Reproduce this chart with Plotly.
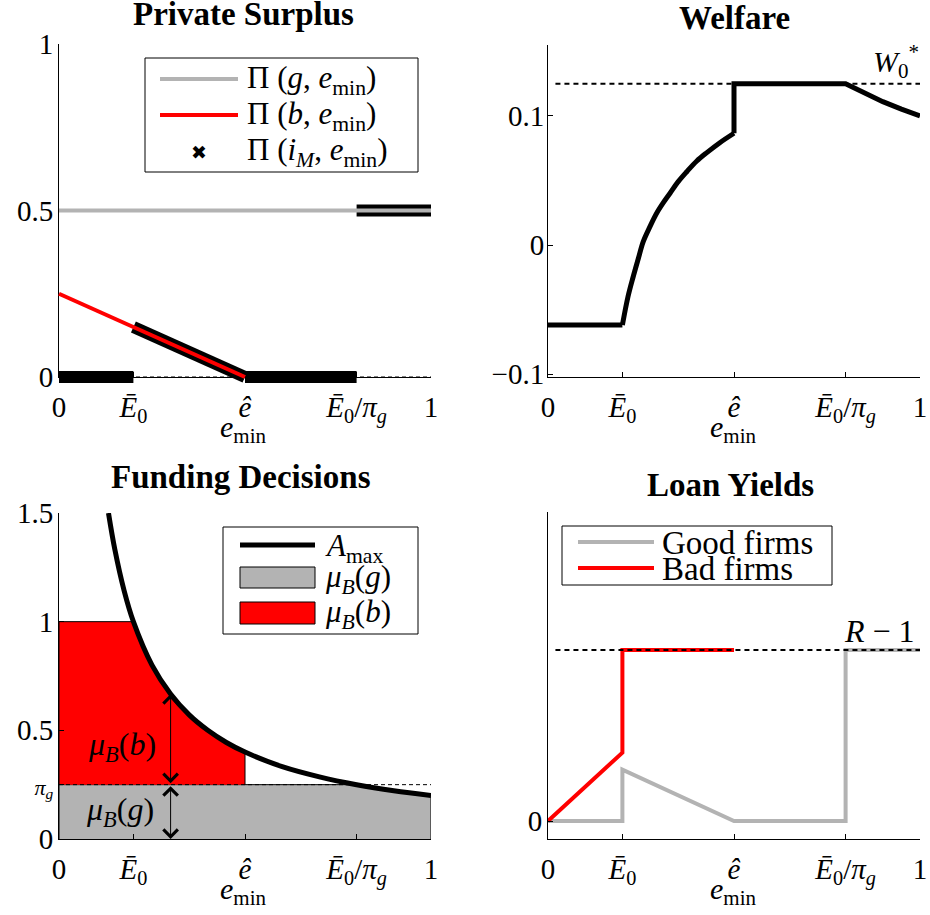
import plotly.graph_objects as go

FONT = "Liberation Serif"
GRAY = "#b3b3b3"
RED = "#ff0000"

# ---------------- shared x-axis ticks ----------------
e_tick_vals = [0, 0.2, 0.5, 0.8, 1]
e_tick_text = ["0", "<i>Ē</i><sub>0</sub>", "<i>ê</i>",
               "<i>Ē</i><sub>0</sub>/<i>π</i><sub><i>g</i></sub>", "1"]

# ---------------- Panel 1: Private Surplus ----------------
good_surplus_x = [0, 1]
good_surplus_y = [0.5, 0.5]
bad_surplus_x = [0, 0.5]
bad_surplus_y = [0.25, 0.0]
im_surplus_x = [0, 0.2, None, 0.2, 0.5, None, 0.5, 0.8, None, 0.8, 1.0]
im_surplus_y = [0, 0, None, 0.15, 0.0, None, 0, 0, None, 0.5, 0.5]
zero_x = [0, 1]
zero_y = [0, 0]
ps_y_ticks = [0, 0.5, 1]

# ---------------- Panel 2: Welfare ----------------
welfare_x = [0, 0.2, 0.215, 0.229, 0.243, 0.256, 0.274, 0.292, 0.31, 0.328,
             0.35, 0.373, 0.4, 0.427, 0.462, 0.5, 0.5, 0.8, 0.85, 0.9, 0.95, 1.0]
welfare_y = [-0.062, -0.062, -0.0401, -0.0246, -0.0103, 0.0026, 0.0142, 0.0246,
             0.0328, 0.0401, 0.0491, 0.0568, 0.0651, 0.0716, 0.0793, 0.0866,
             0.125, 0.125, 0.1176, 0.1111, 0.1053, 0.1]
w_star = 0.125
w_star_x = [0.02, 1]
w_y_ticks = [-0.1, 0, 0.1]

# ---------------- Panel 3: Funding Decisions ----------------
amax_x = [0.133, 0.15, 0.175, 0.2, 0.25, 0.3, 0.35, 0.4, 0.45, 0.5,
          0.6, 0.7, 0.8, 0.9, 1.0]
amax_y = [1.5, 1.333, 1.143, 1.0, 0.8, 0.667, 0.571, 0.5, 0.444, 0.4,
          0.333, 0.286, 0.25, 0.222, 0.2]
pi_g = 0.25
e_hat = 0.5
e_arrow = 0.3
fd_y_ticks = [0, 0.25, 0.5, 1, 1.5]
fd_y_text = ["0", '<span style="font-size:22px"><i>π</i><sub><i>g</i></sub></span>',
             "0.5", "1", "1.5"]

# ---------------- Panel 4: Loan Yields ----------------
good_yield_x = [0, 0.2, 0.2, 0.5, 0.8, 0.8, 1.0]
good_yield_y = [0, 0, 0.15, 0, 0, 0.5, 0.5]
bad_yield_x = [0, 0.2, 0.2, 0.5]
bad_yield_y = [0, 0.2, 0.5, 0.5]
r_minus_1 = 0.5
r_x = [0.02, 1]

# ---------------- derived polygons ----------------
tail = [(x, y) for x, y in zip(amax_x, amax_y) if x >= 0.8]
gray_x = [0, 0, 0.8] + [p[0] for p in tail] + [1.0]
gray_y = [0, pi_g, pi_g] + [p[1] for p in tail] + [0]
mid = [(x, y) for x, y in zip(amax_x, amax_y) if 0.2 <= x <= e_hat]
red_x = [0, 0] + [p[0] for p in mid] + [e_hat]
red_y = [pi_g, 1.0] + [p[1] for p in mid] + [pi_g]
amax_at_arrow = dict(zip(amax_x, amax_y))[e_arrow]

W, H = 930, 915
def px(v):
    return v / W
def py(v):
    return 1 - v / H

# panel pixel boxes (left, right, top, bottom)
P1 = (59, 431, 44, 377)
P2 = (548, 920, 45, 377)
P3 = (59, 431, 513, 839)
P4 = (548, 920, 512, 839)
EXT = 12  # extra drawing room around panel 1 (thick band is not clipped at the axes)

fig = go.Figure()

# Panel 1 axes holder
fig.add_trace(go.Scatter(x=[None], y=[None], mode="lines", showlegend=False,
                         hoverinfo="skip", xaxis="x", yaxis="y"))
# Panel 1 data (drawn on an invisible, slightly larger copy of the axes)
p1 = dict(xaxis="x5", yaxis="y5")
fig.add_trace(go.Scatter(x=zero_x, y=zero_y, mode="lines", showlegend=False,
                         line=dict(color="black", width=1, dash="4px,3px"), **p1))
fig.add_trace(go.Scatter(x=im_surplus_x, y=im_surplus_y, mode="lines", showlegend=False,
                         name="Π (i_M, e_min)",
                         line=dict(color="black", width=12), **p1))
fig.add_trace(go.Scatter(x=good_surplus_x, y=good_surplus_y, mode="lines", showlegend=False,
                         name="Π (g, e_min)", line=dict(color=GRAY, width=4), **p1))
fig.add_trace(go.Scatter(x=bad_surplus_x, y=bad_surplus_y, mode="lines", showlegend=False,
                         name="Π (b, e_min)", line=dict(color=RED, width=4), **p1))

# Panel 2
fig.add_trace(go.Scatter(x=w_star_x, y=[w_star, w_star], mode="lines", showlegend=False,
                         line=dict(color="black", width=2, dash="5px,4px"),
                         xaxis="x2", yaxis="y2"))
i0, i1 = 1, 15  # curved part of the welfare curve
fig.add_trace(go.Scatter(x=welfare_x[:i0 + 1], y=welfare_y[:i0 + 1], mode="lines",
                         showlegend=False, line=dict(color="black", width=5),
                         xaxis="x2", yaxis="y2"))
fig.add_trace(go.Scatter(x=welfare_x[i0:i1 + 1], y=welfare_y[i0:i1 + 1], mode="lines",
                         line_shape="spline", showlegend=False,
                         line=dict(color="black", width=5), xaxis="x2", yaxis="y2"))
fig.add_trace(go.Scatter(x=welfare_x[i1:], y=welfare_y[i1:], mode="lines",
                         showlegend=False, line=dict(color="black", width=5),
                         xaxis="x2", yaxis="y2"))

# Panel 3
fig.add_trace(go.Scatter(x=gray_x, y=gray_y, mode="lines", fill="toself", fillcolor=GRAY,
                         line=dict(color="black", width=1), showlegend=False,
                         xaxis="x3", yaxis="y3"))
fig.add_trace(go.Scatter(x=red_x, y=red_y, mode="lines", fill="toself", fillcolor=RED,
                         line=dict(color="black", width=1), showlegend=False,
                         xaxis="x3", yaxis="y3"))
fig.add_trace(go.Scatter(x=[0, 1], y=[pi_g, pi_g], mode="lines", showlegend=False,
                         line=dict(color="black", width=1, dash="4px,3px"),
                         xaxis="x3", yaxis="y3"))
fig.add_trace(go.Scatter(x=amax_x, y=amax_y, mode="lines", line_shape="spline",
                         line=dict(color="black", width=5), showlegend=False,
                         xaxis="x3", yaxis="y3"))

# Panel 4
fig.add_trace(go.Scatter(x=good_yield_x, y=good_yield_y, mode="lines", showlegend=False,
                         line=dict(color=GRAY, width=4), xaxis="x4", yaxis="y4"))
fig.add_trace(go.Scatter(x=bad_yield_x, y=bad_yield_y, mode="lines", showlegend=False,
                         line=dict(color=RED, width=4), xaxis="x4", yaxis="y4"))
fig.add_trace(go.Scatter(x=r_x, y=[r_minus_1, r_minus_1], mode="lines", showlegend=False,
                         line=dict(color="black", width=2, dash="5px,4px"),
                         xaxis="x4", yaxis="y4"))


def axis(**kw):
    d = dict(showline=True, linecolor="black", linewidth=1, ticks="inside", ticklen=5,
             tickcolor="black", tickwidth=1, showgrid=False, zeroline=False, mirror=False,
             tickfont=dict(family=FONT, size=29, color="black"), fixedrange=True,
             automargin=False, ticklabeloverflow="allow")
    d.update(kw)
    return d

xt = dict(tickmode="array", tickvals=e_tick_vals, ticktext=e_tick_text, range=[0, 1],
          ticklabelstandoff=4)

def dom_x(p):
    return [px(p[0]), px(p[1])]
def dom_y(p):
    return [py(p[3]), py(p[2])]

wx1 = (P1[1] - P1[0])
hy1 = (P1[3] - P1[2])
fig.update_layout(
    width=W, height=H, margin=dict(l=0, r=0, t=0, b=0, autoexpand=False),
    paper_bgcolor="white", plot_bgcolor="rgba(0,0,0,0)",
    font=dict(family=FONT, color="black"), showlegend=False,
    xaxis=axis(domain=dom_x(P1), anchor="y", **xt),
    yaxis=axis(domain=dom_y(P1), anchor="x", range=[0, 1], tickmode="array",
               tickvals=ps_y_ticks, ticktext=["0", "0.5", "1"], ticklabelstandoff=-1),
    xaxis2=axis(domain=dom_x(P2), anchor="y2", **xt),
    yaxis2=axis(domain=dom_y(P2), anchor="x2", range=[-0.1023, 0.155],
                tickmode="array", tickvals=w_y_ticks, ticktext=["−0.1", "0", "0.1"],
                ticklabelstandoff=-3),
    xaxis3=axis(domain=dom_x(P3), anchor="y3", **xt),
    yaxis3=axis(domain=dom_y(P3), anchor="x3", range=[0, 1.5], tickmode="array",
                tickvals=fd_y_ticks, ticktext=fd_y_text, ticklabelstandoff=-1),
    xaxis4=axis(domain=dom_x(P4), anchor="y4", **xt),
    yaxis4=axis(domain=dom_y(P4), anchor="x4", range=[-0.0526, 0.9035],
                tickmode="array", tickvals=[0], ticktext=["0"], ticklabelstandoff=-1),
    xaxis5=dict(domain=[px(P1[0] - EXT), px(P1[1] + EXT)], anchor="y5", visible=False,
                range=[-EXT / wx1, 1 + EXT / wx1], fixedrange=True, automargin=False),
    yaxis5=dict(domain=[py(P1[3] + EXT), py(P1[2] - EXT)], anchor="x5", visible=False,
                range=[-EXT / hy1, 1 + EXT / hy1], fixedrange=True, automargin=False),
)

txt_font = dict(family=FONT, size=30, color="black")
big_font = dict(family=FONT, size=32, color="black")
title_font = dict(family=FONT, size=33, color="black")
titles = [("<b>Private Surplus</b>", 243, 14), ("<b>Welfare</b>", 734, 18),
          ("<b>Funding Decisions</b>", 241, 477), ("<b>Loan Yields</b>", 730, 485)]
for txt, cx, cy in titles:
    fig.add_annotation(text=txt, x=px(cx), y=py(cy), xref="paper", yref="paper",
                       xanchor="center", yanchor="middle", showarrow=False, font=title_font)

# x-axis titles
for cx, cy in [(243, 429), (733, 429), (243, 891), (733, 891)]:
    fig.add_annotation(text="<i>e</i><sub>min</sub>", x=px(cx), y=py(cy), xref="paper",
                       yref="paper", xanchor="center", yanchor="middle", showarrow=False,
                       font=txt_font)

# Panel annotations
fig.add_annotation(text="<i>W</i><sub>0</sub><sup>*</sup>", x=0.935, y=0.142, xref="x2",
                   yref="y2", showarrow=False, font=txt_font)
fig.add_annotation(text="<i>R</i> − 1", x=0.89, y=0.555, xref="x4", yref="y4",
                   showarrow=False, font=big_font)
fig.add_annotation(text="<i>μ<sub>B</sub></i>(<i>b</i>)", x=0.168, y=0.425, xref="x3",
                   yref="y3", showarrow=False, font=big_font)
fig.add_annotation(text="<i>μ<sub>B</sub></i>(<i>g</i>)", x=0.165, y=0.126, xref="x3",
                   yref="y3", showarrow=False, font=big_font)

arrow_common = dict(xref="x3", yref="y3", axref="x3", ayref="y3", text="", showarrow=True,
                    arrowside="end+start", arrowhead=4, startarrowhead=4, arrowsize=2.8,
                    startarrowsize=2.8, arrowwidth=1, arrowcolor="black", standoff=0,
                    startstandoff=0)
fig.add_annotation(x=e_arrow, y=amax_at_arrow, ax=e_arrow, ay=pi_g, **arrow_common)
fig.add_annotation(x=e_arrow, y=0, ax=e_arrow, ay=pi_g, **arrow_common)

# ---------------- legends (drawn as boxes with key samples) ----------------
def add_box(x0, y0, x1, y1):
    fig.add_shape(type="rect", xref="paper", yref="paper", x0=px(x0), x1=px(x1),
                  y0=py(y1), y1=py(y0), line=dict(color="black", width=1),
                  fillcolor="white", layer="above")

def add_key_line(x0, x1, yc, color, width):
    fig.add_shape(type="line", xref="paper", yref="paper", x0=px(x0), x1=px(x1),
                  y0=py(yc), y1=py(yc), line=dict(color=color, width=width), layer="above")

def add_key_rect(x0, x1, ytop, ybot, color):
    fig.add_shape(type="rect", xref="paper", yref="paper", x0=px(x0), x1=px(x1),
                  y0=py(ybot), y1=py(ytop), line=dict(color="black", width=1),
                  fillcolor=color, layer="above")

def add_key_text(txt, x, yc, size=31):
    fig.add_annotation(text=txt, x=px(x), y=py(yc), xref="paper", yref="paper",
                       xanchor="left", yanchor="middle", showarrow=False,
                       font=dict(family=FONT, size=size, color="black"))

# legend 1
add_box(145, 58, 418, 172)
add_key_line(160, 238, 79, GRAY, 4)
add_key_line(160, 238, 115, RED, 4)
fig.add_annotation(text="✖", x=px(199), y=py(152), xref="paper", yref="paper",
                   xanchor="center", yanchor="middle",
                   showarrow=False, font=dict(family="DejaVu Sans", size=19, color="black"))
add_key_text("Π (<i>g</i>, <i>e</i><sub>min</sub>)", 245, 80)
add_key_text("Π (<i>b</i>, <i>e</i><sub>min</sub>)", 245, 116)
add_key_text("Π (<i>i<sub>M</sub></i>, <i>e</i><sub>min</sub>)", 245, 152)

# legend 2
add_box(223, 527, 418, 634)
add_key_line(240, 315, 545, "black", 5)
add_key_rect(240, 315, 567, 588, GRAY)
add_key_rect(240, 315, 602, 624, RED)
add_key_text("<i>A</i><sub>max</sub>", 323, 548)
add_key_text("<i>μ<sub>B</sub></i>(<i>g</i>)", 323, 579)
add_key_text("<i>μ<sub>B</sub></i>(<i>b</i>)", 323, 614)

# legend 3
add_box(562, 526, 832, 585)
add_key_line(578, 654, 542, GRAY, 4)
add_key_line(578, 654, 568, RED, 4)
add_key_text("Good firms", 660, 543, 33)
add_key_text("Bad firms", 660, 569, 33)

fig.write_html("out.html", config={"displayModeBar": False},
               post_script="document.body.style.margin='0px';")
